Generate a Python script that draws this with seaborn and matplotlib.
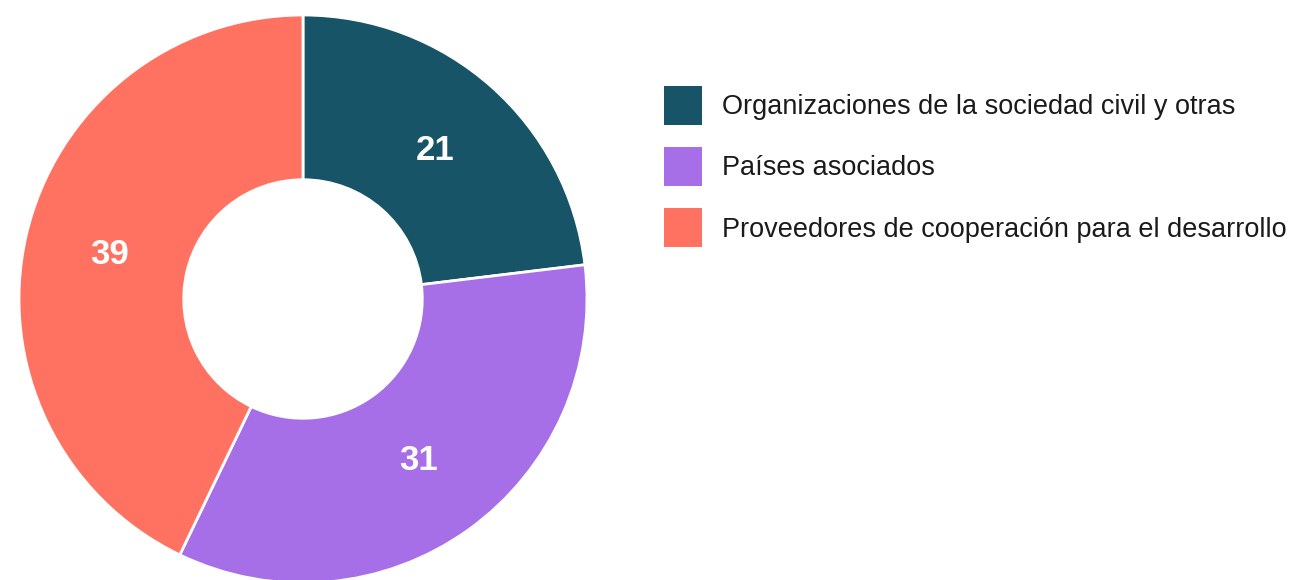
import matplotlib
matplotlib.use("Agg")
import matplotlib.pyplot as plt
import seaborn as sns
import numpy as np

categories = ["Organizaciones de la sociedad civil y otras",
              "Países asociados",
              "Proveedores de cooperación para el desarrollo"]
values = [21, 31, 39]
colors = ["#175467", "#A66FE8", "#FF7262"]

sns.set_theme(style="white")
plt.rcParams['font.family'] = ['Liberation Sans', 'DejaVu Sans']

W, H = 1294, 580
fig = plt.figure(figsize=(W / 100, H / 100), dpi=100)
cx, cy, R = 303, 299, 284
ax = fig.add_axes([(cx - R) / W, (H - cy - R) / H, 2 * R / W, 2 * R / H])

wedges, _ = ax.pie(values, colors=colors, startangle=90, counterclock=False,
                   radius=1.0, wedgeprops=dict(width=0.58, edgecolor="white", linewidth=2),
                   )
for w in wedges:
    w.set_clip_on(False)
ax.set_xlim(-1, 1)
ax.set_ylim(-1, 1)
ax.set_aspect("equal")
ax.axis("off")

# value labels at wedge mid-angles
for w, v in zip(wedges, values):
    ang = np.deg2rad((w.theta1 + w.theta2) / 2)
    r = 0.70
    ax.text(r * np.cos(ang), r * np.sin(ang), str(v), ha="center", va="center",
            color="white", fontsize=25, fontweight="bold")

fs = 19.5
leg = fig.legend(wedges, categories, loc="upper left",
                 bbox_to_anchor=(664 / W, 1 - 86 / H), frameon=False,
                 fontsize=fs, handlelength=1.4, handleheight=1.85,
                 labelspacing=0.81, handletextpad=0.74, borderaxespad=0,
                 borderpad=0, labelcolor="#1a1a1a")
for h in leg.legend_handles:
    h.set_linewidth(0)

fig.savefig("out.png", dpi=100)
